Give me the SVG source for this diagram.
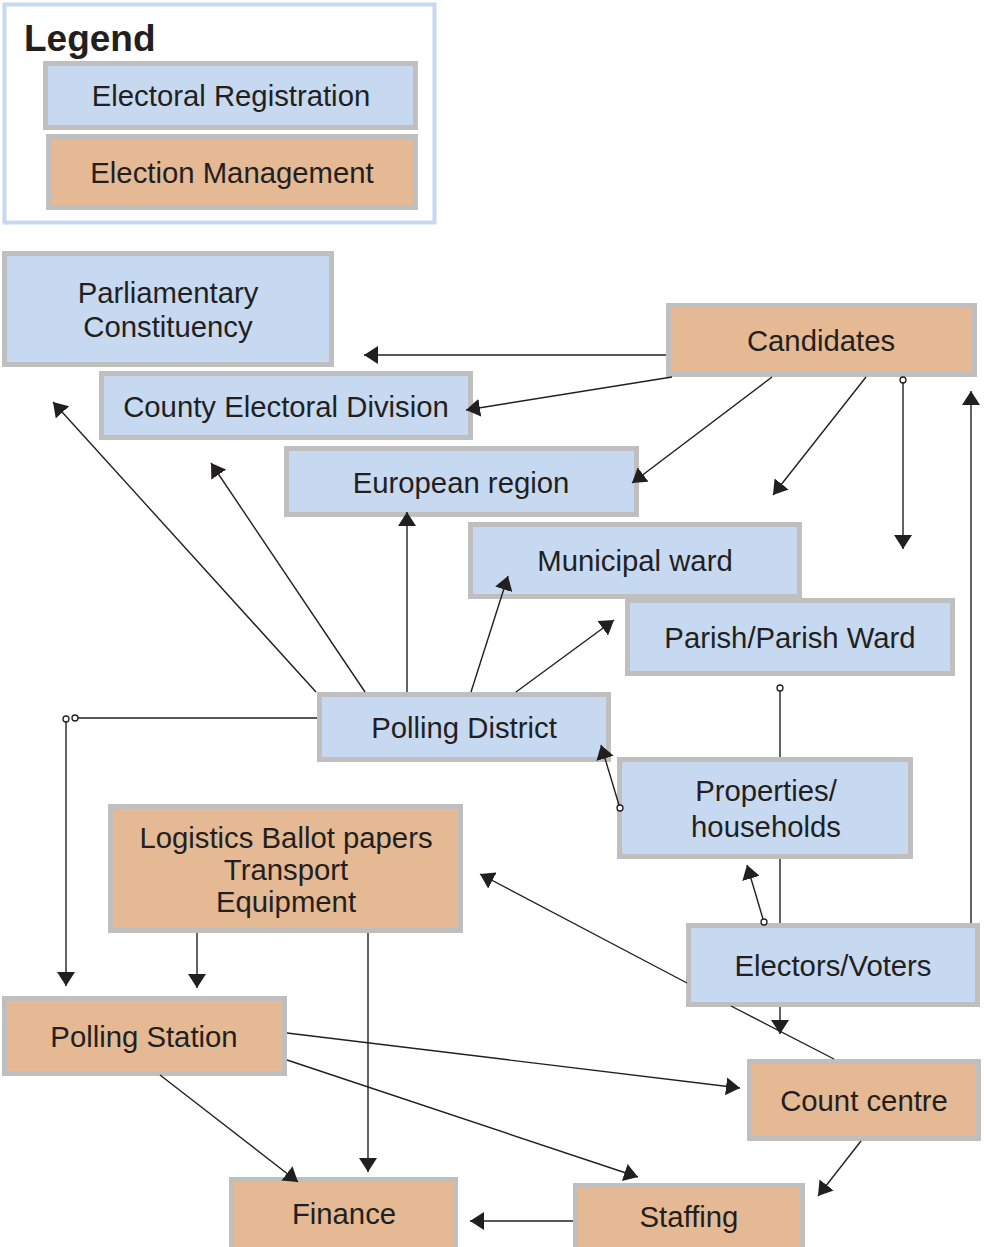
<svg xmlns="http://www.w3.org/2000/svg" width="984" height="1247" viewBox="0 0 984 1247">
  <style>
    .reg { fill: #c6d9f0; stroke: #bfbfbf; stroke-width: 5; }
    .mgmt { fill: #e4b993; stroke: #bfbfbf; stroke-width: 5; }
    .lbl { font-family: "Liberation Sans", Arial, sans-serif; font-size: 29.3px; fill: #231f20; text-anchor: middle; }
    .title { font-family: "Liberation Sans", Arial, sans-serif; font-size: 37px; font-weight: bold; fill: #231f20; }
    .edge { fill: none; stroke: #231f20; stroke-width: 1.4; }
    .arrow { marker-end: url(#head); }
    .dot { fill: #ffffff; stroke: #231f20; stroke-width: 1.3; }
  </style>
  <defs>
    <marker id="head" viewBox="0 0 14 18" refX="14" refY="9" markerWidth="14" markerHeight="18" markerUnits="userSpaceOnUse" orient="auto">
      <path d="M0,0 L14,9 L0,18 z" fill="#231f20"/>
    </marker>
  </defs>

  <!-- legend -->
  <g id="legend">
    <rect x="4.5" y="4.5" width="430" height="218" fill="#ffffff" stroke="#c6d9f0" stroke-width="4"/>
    <text class="title" x="24" y="51">Legend</text>
    <rect class="reg" x="45.5" y="63.5" width="370" height="64"/>
    <text class="lbl" x="231" y="106">Electoral Registration</text>
    <rect class="mgmt" x="48.5" y="136.5" width="367" height="71"/>
    <text class="lbl" x="232" y="183">Election Management</text>
  </g>

  <!-- nodes -->
  <g id="parliamentary-constituency">
    <rect class="reg" x="4.5" y="253.5" width="327" height="111"/>
    <text class="lbl" x="168" y="303">Parliamentary</text>
    <text class="lbl" x="168" y="337">Constituency</text>
  </g>
  <g id="candidates">
    <rect class="mgmt" x="668.5" y="305.5" width="306" height="69"/>
    <text class="lbl" x="821" y="351">Candidates</text>
  </g>
  <g id="county-electoral-division">
    <rect class="reg" x="101.5" y="373.5" width="369" height="64"/>
    <text class="lbl" x="286" y="417">County Electoral Division</text>
  </g>
  <g id="european-region">
    <rect class="reg" x="286.5" y="448.5" width="350" height="66"/>
    <text class="lbl" x="461" y="493">European region</text>
  </g>
  <g id="municipal-ward">
    <rect class="reg" x="470.5" y="524.5" width="329" height="72"/>
    <text class="lbl" x="635" y="571">Municipal ward</text>
  </g>
  <g id="parish-ward">
    <rect class="reg" x="627.5" y="600.5" width="325" height="73"/>
    <text class="lbl" x="790" y="648">Parish/Parish Ward</text>
  </g>
  <g id="polling-district">
    <rect class="reg" x="319.5" y="694.5" width="289" height="65"/>
    <text class="lbl" x="464" y="738">Polling District</text>
  </g>
  <g id="properties-households">
    <rect class="reg" x="619.5" y="759.5" width="291" height="97"/>
    <text class="lbl" x="766" y="801">Properties/</text>
    <text class="lbl" x="766" y="837">households</text>
  </g>
  <g id="logistics">
    <rect class="mgmt" x="110.5" y="806.5" width="350" height="124"/>
    <text class="lbl" x="286" y="848">Logistics Ballot papers</text>
    <text class="lbl" x="286" y="880">Transport</text>
    <text class="lbl" x="286" y="912">Equipment</text>
  </g>
  <g id="electors-voters">
    <rect class="reg" x="688.5" y="925.5" width="289" height="79"/>
    <text class="lbl" x="833" y="976">Electors/Voters</text>
  </g>
  <g id="polling-station">
    <rect class="mgmt" x="4.5" y="998.5" width="280" height="75"/>
    <text class="lbl" x="144" y="1047">Polling Station</text>
  </g>
  <g id="count-centre">
    <rect class="mgmt" x="749.5" y="1061.5" width="229" height="77"/>
    <text class="lbl" x="864" y="1111">Count centre</text>
  </g>
  <g id="finance">
    <rect class="mgmt" x="231.5" y="1179.5" width="224" height="70"/>
    <text class="lbl" x="344" y="1224">Finance</text>
  </g>
  <g id="staffing">
    <rect class="mgmt" x="575.5" y="1185.5" width="227" height="66"/>
    <text class="lbl" x="689" y="1227">Staffing</text>
  </g>

  <!-- connectors -->
  <g id="connectors">
    <!-- from Candidates -->
    <path class="edge arrow" d="M666,355 L364,355"/>
    <path class="edge arrow" d="M672,377 L466,410"/>
    <path class="edge arrow" d="M772,377 L632,483"/>
    <path class="edge arrow" d="M866,377 L773,495"/>
    <path class="edge arrow" d="M903,383 L903,549"/>
    <circle class="dot" cx="903" cy="380" r="3"/>
    <!-- Electors up to Candidates -->
    <path class="edge arrow" d="M971,923 L971,391"/>
    <!-- from Polling District -->
    <path class="edge arrow" d="M316,692 L53,402"/>
    <path class="edge arrow" d="M365,692 L211,463"/>
    <path class="edge arrow" d="M407,692 L407,512"/>
    <path class="edge arrow" d="M471,692 L508,576"/>
    <path class="edge arrow" d="M516,692 L614,620"/>
    <path class="edge" d="M317,718 L78,718"/>
    <circle class="dot" cx="75" cy="718" r="3"/>
    <path class="edge arrow" d="M66,722 L66,986"/>
    <circle class="dot" cx="66" cy="719" r="3"/>
    <!-- Properties to Polling District -->
    <path class="edge arrow" d="M619,805 L601,745"/>
    <circle class="dot" cx="620" cy="808" r="3"/>
    <!-- Parish / Properties / Electors spine -->
    <path class="edge" d="M780,691 L780,757"/>
    <circle class="dot" cx="780" cy="688" r="3"/>
    <path class="edge" d="M780,859 L780,923"/>
    <path class="edge arrow" d="M780,1007 L780,1034"/>
    <!-- Electors to Properties -->
    <path class="edge arrow" d="M763,919 L747,865"/>
    <circle class="dot" cx="764" cy="922" r="3"/>
    <!-- Count centre to Logistics (passes behind Electors) -->
    <path class="edge arrow" d="M834,1059 L731,1006 M687,983 L480,874"/>
    <!-- from Logistics -->
    <path class="edge arrow" d="M197,933 L197,988"/>
    <path class="edge arrow" d="M368,933 L368,1172"/>
    <!-- from Polling Station -->
    <path class="edge arrow" d="M287,1033 L740,1088"/>
    <path class="edge arrow" d="M287,1060 L638,1177"/>
    <path class="edge arrow" d="M160,1075 L298,1182"/>
    <!-- Count centre to Staffing, Staffing to Finance -->
    <path class="edge arrow" d="M861,1141 L818,1196"/>
    <path class="edge arrow" d="M573,1221 L470,1221"/>
  </g>
</svg>
